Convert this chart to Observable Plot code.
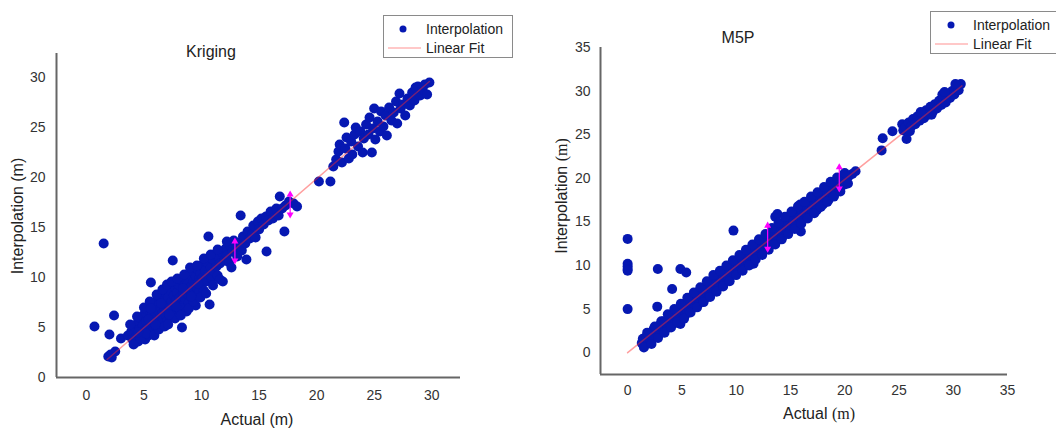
<!DOCTYPE html>
<html><head><meta charset="utf-8">
<script src="https://cdn.jsdelivr.net/npm/d3@7"></script>
<script src="https://cdn.jsdelivr.net/npm/@observablehq/plot@0.6"></script>
<style>
body{margin:0;background:#fff;font-family:"Liberation Sans",Arial,sans-serif;}
#wrap{position:relative;width:1056px;height:429px;overflow:hidden;background:#fff;}
.panel{position:absolute;top:0;width:528px;height:429px;}
.t{position:absolute;white-space:nowrap;color:#222;transform:translate(-50%,-50%);line-height:1;}
.yl{transform:translate(-50%,-50%) rotate(-90deg);}
.legend{position:absolute;border:1px solid #8a8a8a;background:#fff;font-size:14px;color:#222;}
.legend .row{position:absolute;left:0;white-space:nowrap;}
.serif{font-family:"Liberation Serif","DejaVu Serif",serif;}
</style>
</head><body>
<div id="wrap">
  <div class="panel" id="left" style="left:0"></div>
  <div class="panel" id="right" style="left:528px"></div>
  <div class="t" style="left:211px;top:52px;font-size:16px;">Kriging</div>
  <div class="t" style="left:738px;top:38px;font-size:16px;">M5P</div>
  <div class="t" style="left:257px;top:420px;font-size:16px;">Actual (m)</div>
  <div class="t" style="left:819px;top:414px;font-size:16px;">Actual <span class="serif">(m)</span></div>
  <div class="t yl" style="left:18px;top:216px;font-size:16px;">Interpolation (m)</div>
  <div class="t yl" style="left:562px;top:196px;font-size:16px;">Interpolation <span class="serif">(m)</span></div>
  <div class="legend" id="legL" style="left:383px;top:15px;width:128px;height:41px;"></div>
  <div class="legend" id="legR" style="left:930px;top:11px;width:132px;height:41px;"></div>
</div>
<script>
// ---- Data ----
const krigingPoints = [
[1.9,2.1],[2.1,2.3],[2.5,2.6],[2.2,2.0],[0.7,5.1],[1.5,13.4],[2.4,6.2],[2.0,4.3],[3.0,3.9],
[3.6,4.2],[3.9,4.6],[4.0,3.8],[4.2,5.0],[4.3,4.1],[4.4,5.4],[4.5,3.6],[4.6,4.8],[4.7,5.9],[4.8,4.3],[4.9,5.2],
[5.0,6.3],[5.0,4.6],[5.1,3.8],[5.2,5.6],[5.3,4.9],[5.3,6.8],[5.4,4.2],[5.5,5.9],[5.6,9.5],[5.6,5.2],
[5.7,6.4],[5.8,4.7],[5.8,7.1],[5.9,5.6],[6.0,6.1],[6.0,7.6],[6.1,5.0],[6.2,6.7],[6.2,5.4],[6.3,7.3],
[6.4,6.0],[6.4,8.1],[6.5,5.5],[6.5,7.0],[6.6,6.4],[6.7,7.8],[6.7,5.8],[6.8,6.9],[6.9,8.4],[6.9,6.2],
[7.0,7.4],[7.0,5.6],[7.1,8.0],[7.2,6.6],[7.2,7.2],[7.3,8.7],[7.3,6.0],[7.4,7.6],[7.5,6.8],[7.5,11.7],
[7.6,8.2],[7.6,7.0],[7.7,9.0],[7.8,6.4],[7.8,7.8],[7.9,8.5],[8.0,7.3],[8.0,9.3],[8.1,6.8],[8.1,8.0],
[8.2,7.6],[8.3,5.0],[8.3,9.7],[8.4,8.4],[8.4,7.2],[8.5,8.9],[8.6,7.8],[8.6,10.0],[8.7,6.6],[8.8,8.3],
[8.8,9.4],[8.9,7.5],[9.0,10.3],[9.0,8.7],[9.1,9.1],[9.2,7.9],[9.2,10.6],[9.3,9.6],[9.4,8.3],[9.5,10.1],
[9.5,7.2],[9.6,9.0],[9.7,10.8],[9.8,8.6],[9.8,9.9],[9.9,10.4],[10.0,9.3],[10.0,11.2],[10.1,10.0],[10.2,8.7],
[10.3,10.7],[10.4,9.6],[10.5,11.5],[10.6,14.1],[10.6,10.3],[10.7,7.3],[10.8,11.0],[10.9,9.9],[11.0,11.8],[11.1,10.6],
[11.2,12.2],[11.3,11.1],[11.4,10.2],[11.5,12.0],[11.6,11.4],[11.85,9.6],[11.8,12.5],[12.0,11.7],[12.1,12.9],[12.2,12.2],
[12.4,11.5],[12.5,13.2],[12.7,12.6],[12.8,13.7],[13.0,12.9],[13.1,12.1],[13.3,13.5],[13.4,16.2],[13.5,12.7],[13.6,14.1],
[13.8,13.4],[13.9,11.8],[14.0,14.6],[14.2,13.9],[14.4,14.3],[14.5,15.2],[14.7,14.0],[14.9,15.6],[15.0,14.8],[15.2,15.9],
[15.4,15.3],[15.65,12.6],[15.6,16.1],[15.8,15.7],[16.0,16.6],[16.2,15.9],[16.5,16.9],[16.7,16.2],[16.8,18.1],[17.0,16.9],
[17.2,14.6],[17.3,17.2],[17.6,17.6],[18.0,17.4],[18.3,17.1],
[3.8,5.3],[4.1,3.3],[4.4,6.1],[4.7,3.9],[5.0,7.0],[5.2,4.4],[5.5,7.6],[5.9,4.2],[6.1,8.3],[6.3,4.8],
[6.6,8.8],[6.8,5.1],[7.0,9.3],[7.1,5.3],[7.4,9.6],[7.7,5.9],[7.9,9.9],[8.2,6.2],[8.5,10.3],[8.9,6.9],
[9.0,11.0],[9.3,7.6],[9.6,11.2],[9.9,8.0],[10.2,11.9],[10.4,8.4],[10.8,12.3],[11.0,9.2],[11.4,12.8],[11.6,9.8],
[12.2,13.6],[12.6,11.0],[5.6,6.9],[6.0,5.3],[6.5,7.4],[7.2,6.3],[7.8,7.1],[8.4,8.9],[9.1,8.1],[9.7,9.4],[4.5,4.5],[5.4,5.8],
[20.2,19.6],[21.2,19.6],[21.45,21.1],[21.7,21.8],[21.9,22.6],[22.0,23.3],[22.2,21.5],[22.4,25.5],[22.5,22.9],[22.6,24.0],
[22.8,21.9],[23.0,23.6],[23.1,22.3],[23.3,24.3],[23.4,25.0],[23.6,23.1],[23.8,24.6],[24.0,22.5],[24.1,23.9],[24.3,25.3],
[24.5,24.3],[24.6,26.0],[24.8,22.5],[24.9,24.9],[25.0,26.9],[25.1,23.8],[25.3,25.6],[25.5,24.6],[25.6,26.6],[25.8,25.1],
[26.0,26.2],[26.1,24.2],[26.3,27.0],[26.5,25.7],[26.7,26.5],[26.9,27.6],[27.0,25.4],[27.2,28.4],[27.3,26.9],[27.5,27.3],
[27.7,26.2],[27.9,27.9],[28.1,27.2],[28.3,28.5],[28.5,27.7],[28.6,29.0],[28.8,29.1],[29.0,28.2],[29.2,28.8],[29.4,29.3],
[29.6,28.3],[29.8,29.5]
];
const m5pPoints = [
[0,13.05],[0,10.2],[0,9.9],[0,9.6],[0,9.4],[0,5.0],[2.78,9.6],[2.73,5.28],[4.1,7.3],[4.86,9.6],[5.4,9.2],
[1.3,1.1],[1.4,1.6],[1.6,0.9],[1.7,1.8],[1.9,1.4],[2.0,2.2],[2.1,1.2],[2.3,2.0],[2.4,2.7],[2.6,1.8],
[2.7,2.5],[2.9,3.1],[3.0,2.2],[3.2,2.9],[3.3,3.6],[3.5,2.7],[3.6,3.3],[3.8,4.0],[3.9,3.1],[4.1,3.7],
[4.2,4.5],[4.4,3.4],[4.5,4.1],[4.7,4.9],[4.8,3.9],[4.86,3.3],[5.0,4.6],[5.1,5.4],[5.3,4.3],[5.4,5.0],[5.6,5.9],
[5.7,4.8],[5.9,5.5],[6.0,6.4],[6.2,5.3],[6.3,6.0],[6.5,6.8],[6.6,5.7],[6.8,6.5],[6.9,7.4],[7.1,6.2],
[7.2,7.0],[7.4,7.8],[7.5,6.6],[7.7,7.4],[7.8,8.3],[8.0,7.1],[8.1,7.9],[8.3,8.7],[8.4,7.6],[8.6,8.4],
[8.7,9.1],[8.8,7.7],[8.9,8.1],[9.0,8.8],[9.2,9.5],[9.3,8.6],[9.5,9.3],[9.6,10.0],[9.75,14.0],[9.8,9.0],[9.9,9.7],
[10.1,10.4],[10.2,9.5],[10.4,10.2],[10.5,10.9],[10.7,9.9],[10.8,10.6],[11.0,11.4],[11.1,10.4],[11.3,11.1],[11.4,11.8],
[11.6,10.8],[11.6,10.2],[11.7,11.5],[11.9,12.3],[12.0,11.3],[12.2,12.0],[12.3,12.8],[12.5,11.7],[12.6,12.5],[12.8,13.2],[12.9,12.2],
[13.1,12.9],[13.2,13.7],[13.4,12.5],[13.5,13.3],[13.6,15.6],[13.7,14.1],[13.8,15.9],[13.8,13.0],[14.0,13.8],[14.1,14.7],[14.3,13.4],
[14.4,14.2],[14.6,15.0],[14.7,13.9],[14.9,14.6],[15.0,15.5],[15.2,14.4],[15.3,15.1],[15.5,15.9],[15.6,14.8],[15.8,15.5],
[15.9,17.0],[15.96,13.9],[16.0,16.4],[16.1,15.2],[16.3,16.0],[16.4,16.8],[16.6,15.7],[16.7,16.4],[16.9,17.2],[17.0,16.1],[17.2,16.9],
[17.3,17.6],[17.4,16.3],[17.5,16.5],[17.7,17.3],[17.8,18.1],[18.0,17.0],[18.1,17.8],[18.3,18.5],[18.5,17.5],[18.6,18.3],[18.8,19.0],
[19.0,18.0],[19.1,18.7],[19.3,19.4],[19.5,18.6],[19.6,19.2],[19.8,19.8],[20.0,19.3],[20.2,20.0],[20.4,20.3],[20.7,20.5],[21.0,20.8],
[1.5,0.6],[1.8,2.3],[2.2,1.0],[2.5,3.0],[2.8,1.7],[3.1,3.6],[3.4,2.3],[3.7,4.4],[4.0,2.9],[4.3,5.0],
[4.6,3.5],[4.9,5.6],[5.2,3.9],[5.5,6.3],[5.8,4.6],[6.1,6.9],[6.4,5.2],[6.7,7.5],[7.0,5.8],[7.3,8.2],
[7.6,6.4],[7.9,8.9],[8.2,7.0],[8.5,9.4],[8.8,7.6],[9.1,10.0],[9.4,8.2],[9.7,10.6],[10.0,8.9],[10.3,11.2],
[10.6,9.4],[10.9,11.8],[11.2,10.0],[11.5,12.4],[11.8,10.7],[12.1,13.0],[12.4,11.2],[12.7,13.6],[13.0,11.8],[13.3,14.3],
[13.6,12.4],[13.9,14.9],[14.2,13.0],[14.5,15.6],[14.8,13.6],[15.1,16.2],[15.4,14.2],[15.7,16.8],[16.0,14.8],[16.3,17.3],
[16.6,15.4],[16.9,17.9],[17.2,16.0],[17.5,18.4],[17.8,16.7],[18.1,19.0],[18.4,17.3],[18.7,19.6],[19.0,17.9],[19.3,20.1],
[19.6,18.5],[20.0,20.6],[20.3,19.4],
[23.4,23.2],[23.5,24.6],[24.4,25.4],[25.3,26.2],[25.7,24.5],[25.4,25.5],[25.6,25.9],[25.9,26.4],[26.1,25.9],[26.3,26.8],
[26.5,26.2],[26.7,27.1],[26.9,26.6],[27.1,27.5],[27.3,26.9],[27.5,27.8],[27.7,27.3],[27.9,28.2],[28.1,27.6],[28.3,28.5],
[28.5,28.0],[28.7,28.9],[28.9,28.4],[29.1,29.2],[29.3,28.7],[29.5,29.6],[29.7,29.2],[29.9,30.0],[30.1,29.6],[30.3,30.5],
[30.5,30.1],[30.7,30.8],[30.2,30.8],[29.0,29.6],[26.0,25.4],[27.0,27.6],[28.0,27.3],[29.2,29.9]
];
const krigingFit = [[1.8,1.8],[29.8,29.6]];
const m5pFit = [[0,0],[30.8,30.6]];
const krigingArrows = [[12.9,13.8,11.5],[17.7,18.5,16.1]]; // x, top, bottom
const m5pArrows = [[12.9,14.8,11.7],[19.5,21.5,18.6]];
const krigingTicks = [0,5,10,15,20,25,30];
const m5pTicks = [0,5,10,15,20,25,30,35];

const dotColor = "#0618b2";
const axisColor = "#666";

function chart({points, fit, arrows, ticks, xDomain, yDomain, margins, pad}) {
  return Plot.plot({
    width: 528, height: 429,
    marginLeft: margins[0], marginRight: margins[1], marginTop: margins[2], marginBottom: margins[3],
    x: {domain: xDomain}, y: {domain: yDomain},
    style: {fontFamily: "'Liberation Sans', Arial, sans-serif", fontSize: "14px", color: "#333", background: "transparent"},
    marks: [
      Plot.axisX({ticks, tickSize: 0, tickPadding: pad[0], label: null, tickFormat: d => d}),
      Plot.axisY({ticks, tickSize: 0, tickPadding: pad[1], label: null, tickFormat: d => d}),
      Plot.dot(points, {x: d => d[0], y: d => d[1], r: 5, fill: dotColor, stroke: "none"}),
      Plot.line(fit, {x: d => d[0], y: d => d[1], stroke: "#ff2a2a", strokeOpacity: 0.45, strokeWidth: 1.5}),
      Plot.ruleX(arrows, {x: d => d[0], y1: d => d[1], y2: d => d[2], stroke: "#ff00ff", strokeWidth: 1.2, insetTop: 3, insetBottom: 3}),
      Plot.dot(arrows, {x: d => d[0], y: d => d[1], symbol: "triangle", r: 2.6, fill: "#ff00ff", dy: 2}),
      Plot.dot(arrows, {x: d => d[0], y: d => d[2], symbol: "triangle", r: 2.6, fill: "#ff00ff", rotate: 180, dy: -2}),
      Plot.ruleY([yDomain[0]], {stroke: axisColor, strokeWidth: 2}),
      Plot.ruleX([xDomain[0]], {stroke: axisColor, strokeWidth: 2})
    ]
  });
}

document.getElementById("left").append(chart({
  points: krigingPoints, fit: krigingFit, arrows: krigingArrows, ticks: krigingTicks,
  xDomain: [-2.6, 32.5], yDomain: [0, 32.4], margins: [56, 68, 53, 52], pad: [13, 11]
}));
document.getElementById("right").append(chart({
  points: m5pPoints, fit: m5pFit, arrows: m5pArrows, ticks: m5pTicks,
  xDomain: [-2.5, 35], yDomain: [-2.5, 35], margins: [72, 49, 47, 55], pad: [11, 10]
}));

function legend(el, dx) {
  el.innerHTML = `
    <svg width="40" height="41" style="position:absolute;left:0;top:0">
      <circle cx="${19 + dx}" cy="13" r="3.5" fill="${dotColor}"/>
      <line x1="4" x2="37" y1="32" y2="32" stroke="#ff2a2a" stroke-opacity="0.35" stroke-width="1.5"/>
    </svg>
    <div class="row" style="left:42px;top:5px">Interpolation</div>
    <div class="row" style="left:42px;top:24px">Linear Fit</div>`;
}
legend(document.getElementById("legL"), 0);
legend(document.getElementById("legR"), 1);
</script>
</body></html>
